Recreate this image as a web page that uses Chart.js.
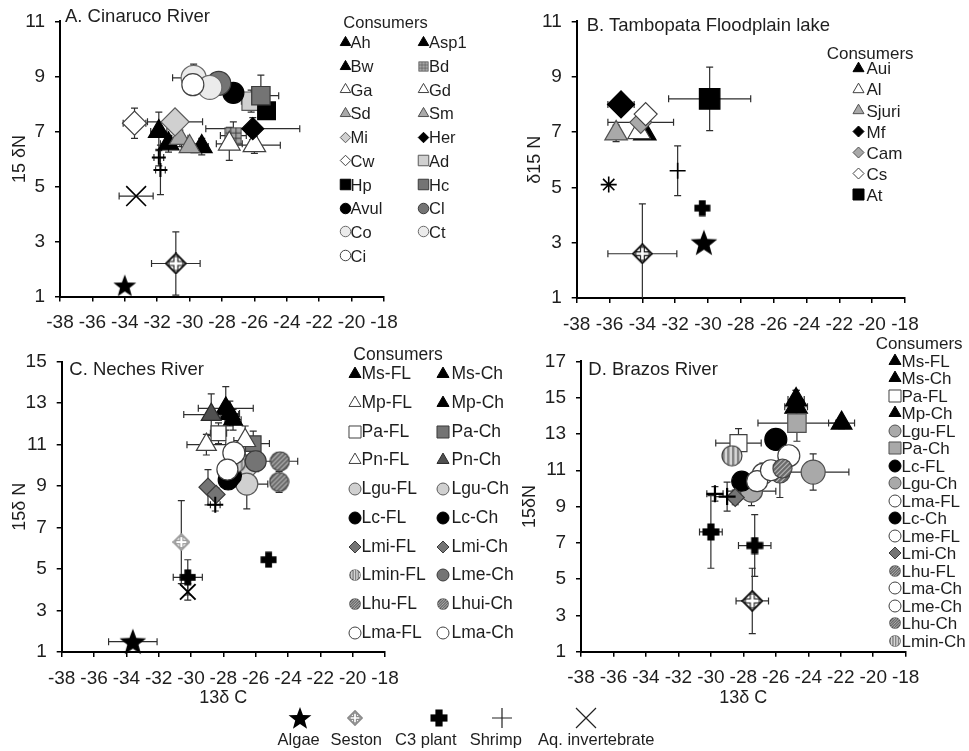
<!DOCTYPE html>
<html>
<head>
<meta charset="utf-8">
<title>Stable isotope biplots</title>
<script src="https://cdn.jsdelivr.net/npm/chart.js@4.4.1/dist/chart.umd.min.js"></script>
<style>
  body { margin: 0; background: #fff; }
  #fig { position: relative; width: 969px; height: 751px; overflow: hidden;
         font-family: "Liberation Sans", Arial, Helvetica, sans-serif; color: #1e1e1e; }
  #fig canvas.panel { position: absolute; }
  .txt { position: absolute; white-space: nowrap; line-height: 1; }
</style>
</head>
<body>
<div id="fig">
  <canvas id="chartA" class="panel" width="480" height="345" style="left:0;top:0"></canvas>
  <canvas id="chartB" class="panel" width="489" height="345" style="left:480px;top:0"></canvas>
  <canvas id="chartC" class="panel" width="480" height="375" style="left:0;top:340px"></canvas>
  <canvas id="chartD" class="panel" width="489" height="375" style="left:480px;top:340px"></canvas>
</div>
<script>
// ---- A. Cinaruco River ----
const aNames = ["Ah", "Asp1", "Bw", "Bd", "Ga", "Gd", "Sd", "Sm", "Mi", "Her",
    "Cw", "Ad", "Hp", "Hc", "Avul", "Cl", "Co", "Ct", "Ci"];
const aX = [-31.9, -31.3, -29.25, -27.3, -27.55, -26.0, -30.6, -30.0, -30.9, -26.1,
    -33.4, -26.2, -25.25, -25.6, -27.3, -28.2, -29.75, -28.75, -29.8];
const aY = [7.0, 6.55, 6.45, 6.85, 6.55, 6.5, 6.75, 6.45, 7.35, 7.1,
    7.3, 8.1, 7.75, 8.3, 8.4, 8.75, 8.95, 8.6, 8.7];
const aXErr = [0.5, 0.5, 0.4, 0.8, 0.8, 1.6, 0.5, 0.5, 1.7, 2.9,
    0.7, 0.6, 0.5, 1.1, 0.3, 0.4, 1.3, 0.6, 0.3];
const aYErr = [0.7, 0.3, 0.3, 0.5, 0.6, 0.3, 0.3, 0.2, 0.3, 0.4,
    0.55, 0.4, 0.3, 0.75, 0.2, 0.3, 0.5, 0.4, 0.3];
const aSrcTypes = ["Algae", "Seston", "Shrimp", "Shrimp", "Aq. invertebrate"];
const aSrcX = [-34.0, -30.85, -31.9, -31.8, -33.3];
const aSrcY = [1.4, 2.2, 6.05, 5.6, 4.65];
const aSrcXErr = [0, 1.5, 0.3, 0.3, 1.05];
const aSrcYErr = [0, 1.15, 0.3, 0.9, 0];

// ---- B. Tambopata Floodplain lake ----
const bNames = ["Aui", "Al", "Sjuri", "Mf", "Cam", "Cs", "At"];
const bX = [-33.85, -34.2, -35.6, -35.3, -34.1, -33.8, -29.9];
const bY = [6.95, 7.0, 6.95, 8.0, 7.35, 7.65, 8.2];
const bXErr = [0, 0, 0, 0.8, 2.0, 0, 2.5];
const bYErr = [0, 0, 0.3, 0, 0, 0, 1.15];
const bSrcTypes = ["Algae", "Seston", "C3 plant", "Shrimp", "Aq. invertebrate"];
const bSrcX = [-30.25, -34.0, -30.35, -31.85, -36.05];
const bSrcY = [3.0, 2.6, 4.25, 5.6, 5.1];
const bSrcXErr = [0, 2.1, 0, 0, 0];
const bSrcYErr = [0, 1.8, 0, 0.9, 0];

// ---- C. Neches River ----
const cNames = ["Ms-FL", "Ms-Ch", "Mp-FL", "Mp-Ch", "Pa-FL", "Pa-Ch", "Pn-FL", "Pn-Ch",
    "Lgu-FL", "Lgu-Ch", "Lc-FL", "Lc-Ch", "Lmi-FL", "Lmi-Ch", "Lmin-FL", "Lme-Ch",
    "Lhu-FL", "Lhui-Ch", "Lma-FL", "Lma-Ch"];
const cX = [-27.85, -27.4, -29.05, -27.6, -28.3, -26.15, -26.65, -28.75,
    -26.55, -26.55, -27.7, -27.5, -28.95, -28.45, -27.2, -26.0,
    -24.5, -24.55, -27.35, -27.75];
const cY = [12.75, 12.2, 11.0, 12.5, 11.55, 11.05, 11.2, 12.45,
    9.95, 9.1, 9.3, 9.5, 8.95, 8.6, 10.1, 10.2,
    10.2, 9.2, 10.6, 9.8];
const cXErr = [1.7, 0.5, 1.2, 0.6, 0.5, 1.0, 0.7, 1.7,
    0.5, 1.3, 0.3, 0.3, 0.3, 0.3, 0.3, 0.5,
    1.1, 0.5, 0.4, 0.3];
const cYErr = [1.05, 0.5, 0.5, 0.6, 0.5, 0.6, 0.7, 1.0,
    0.5, 1.2, 0.3, 0.3, 0.85, 0.3, 0.3, 0.5,
    0.4, 0.5, 0.4, 0.3];
const cSrcTypes = ["Algae", "Seston", "C3 plant", "C3 plant", "Shrimp", "Aq. invertebrate"];
const cSrcX = [-33.6, -30.6, -30.2, -25.2, -28.5, -30.2];
const cSrcY = [1.5, 6.3, 4.6, 5.45, 8.1, 3.9];
const cSrcXErr = [1.5, 0, 0.9, 0, 0.3, 0];
const cSrcYErr = [0, 2.0, 0.85, 0, 0.3, 0.4];

// ---- D. Brazos River ----
const dNames = ["Ms-FL", "Ms-Ch", "Pa-FL", "Mp-Ch", "Lgu-FL", "Pa-Ch", "Lc-FL", "Lgu-Ch",
    "Lma-FL", "Lc-Ch", "Lme-FL", "Lmi-Ch", "Lhu-FL", "Lma-Ch", "Lme-Ch", "Lhu-Ch", "Lmin-Ch"];
const dX = [-24.75, -24.75, -28.3, -21.95, -27.5, -24.7, -28.1, -23.7,
    -26.8, -26.0, -25.2, -28.5, -25.75, -27.15, -26.3, -25.6, -28.7];
const dY = [14.5, 14.9, 12.5, 13.6, 9.85, 13.6, 10.4, 10.9,
    10.8, 12.7, 11.8, 9.5, 10.85, 10.4, 11.0, 11.1, 11.8];
const dXErr = [0.7, 0.5, 1.4, 0.8, 1.5, 2.4, 0.4, 2.2,
    0.5, 0.3, 0.4, 0.3, 0.5, 0.4, 0.4, 0.5, 0.3];
const dYErr = [0.9, 0.5, 0.8, 0.3, 0.8, 1.0, 0.4, 1.0,
    0.6, 0.3, 0.3, 0.4, 1.35, 0.5, 0.4, 0.5, 0.3];
const dSrcTypes = ["Seston", "C3 plant", "C3 plant", "Shrimp", "Shrimp"];
const dSrcX = [-27.45, -30.0, -27.3, -29.75, -29.0];
const dSrcY = [3.8, 7.6, 6.85, 9.7, 9.55];
const dSrcXErr = [1.0, 0.7, 1.0, 0.5, 0.7];
const dSrcYErr = [1.8, 2.0, 1.7, 0.4, 0.8];

const sourceOrder = ["Algae", "Seston", "C3 plant", "Shrimp", "Aq. invertebrate"];

const FONT = '"Liberation Sans", Arial, Helvetica, sans-serif';
const INK = "#1e1e1e";
const fig = document.getElementById("fig");

const BLACK = { fill: "#000000", line: "#000000" };
const WHITE = { fill: "#ffffff", line: "#404040" };
const PALE = { fill: "#ebebeb", line: "#6a6a6a" };
const LIGHT = { fill: "#d0d0d0", line: "#5a5a5a" };
const GREY = { fill: "#a9a9a9", line: "#505050" };
const DARK = { fill: "#747474", line: "#3a3a3a" };
const DARKER = { fill: "#505050", line: "#2a2a2a" };

// small canvases used as point styles
function canvasOf(d, paint) {
    const c = document.createElement("canvas");
    c.width = d;
    c.height = d;
    paint(c.getContext("2d"), d / 2, d);
    return c;
}

function starImg(d) {
    return canvasOf(d, (g, m) => {
        g.beginPath();
        for (let i = 0; i < 10; i++) {
            const r = i % 2 ? m * 0.42 : m;
            const a = -Math.PI / 2 + i * Math.PI / 5;
            g.lineTo(m + r * Math.cos(a), m * 1.08 + r * Math.sin(a));
        }
        g.closePath();
        g.fillStyle = "#000";
        g.fill();
    });
}

function sestonImg(d, ink) {
    return canvasOf(d, (g, m) => {
        const r = m - 1;
        g.strokeStyle = ink;
        g.fillStyle = "#fff";
        g.lineWidth = 1.8;
        g.beginPath();
        g.moveTo(m, m - r);
        g.lineTo(m + r, m);
        g.lineTo(m, m + r);
        g.lineTo(m - r, m);
        g.closePath();
        g.fill();
        g.stroke();
        const a = r * 0.7, w = r * 0.2;
        g.beginPath();
        g.moveTo(m - w, m - a); g.lineTo(m + w, m - a); g.lineTo(m + w, m - w);
        g.lineTo(m + a, m - w); g.lineTo(m + a, m + w); g.lineTo(m + w, m + w);
        g.lineTo(m + w, m + a); g.lineTo(m - w, m + a); g.lineTo(m - w, m + w);
        g.lineTo(m - a, m + w); g.lineTo(m - a, m - w); g.lineTo(m - w, m - w);
        g.closePath();
        g.fill();
        g.lineWidth = 1.1;
        g.stroke();
    });
}

function plantImg(d) {
    return canvasOf(d, (g, m, n) => {
        const w = n * 0.2;
        g.fillStyle = "#000";
        g.fillRect(m - w, 0.5, 2 * w, n - 1);
        g.fillRect(0.5, m - w, n - 1, 2 * w);
    });
}

function stripeImg(d, kind) {
    return canvasOf(d, (g, m, n) => {
        const r = m - 1;
        g.save();
        g.beginPath();
        g.arc(m, m, r, 0, 2 * Math.PI);
        g.clip();
        g.fillStyle = kind === "v" ? "#d6d6d6" : "#c2c2c2";
        g.fillRect(0, 0, n, n);
        g.strokeStyle = kind === "v" ? "#858585" : "#6a6a6a";
        g.lineWidth = n / 9;
        g.beginPath();
        for (let t = -n; t < 2 * n; t += n / 4.5) {
            if (kind === "v") {
                g.moveTo(t, 0);
                g.lineTo(t, n);
            } else {
                g.moveTo(t, n);
                g.lineTo(t + n, 0);
            }
        }
        g.stroke();
        g.restore();
        g.beginPath();
        g.arc(m, m, r, 0, 2 * Math.PI);
        g.strokeStyle = "#404040";
        g.lineWidth = 1.2;
        g.stroke();
    });
}

function gridSquareImg(d) {
    return canvasOf(d, (g, m, n) => {
        g.fillStyle = "#a4a4a4";
        g.fillRect(1, 1, n - 2, n - 2);
        g.strokeStyle = "#3c3c3c";
        g.lineWidth = 1;
        g.beginPath();
        for (let k = 1; k < 3; k++) {
            const p = 1 + k * (n - 2) / 3;
            g.moveTo(p, 1); g.lineTo(p, n - 1);
            g.moveTo(1, p); g.lineTo(n - 1, p);
        }
        g.stroke();
        g.strokeRect(1, 1, n - 2, n - 2);
    });
}

// [point style, colours, radius, line width]
const styleA = {
    "Ah": ["triangle", BLACK, 12], "Asp1": ["triangle", BLACK, 12], "Bw": ["triangle", BLACK, 12],
    "Bd": [gridSquareImg(18), BLACK, 9], "Ga": ["triangle", WHITE, 12.5], "Gd": ["triangle", WHITE, 13],
    "Sd": ["triangle", GREY, 12], "Sm": ["triangle", GREY, 12], "Mi": ["rectRot", LIGHT, 14],
    "Her": ["rectRot", BLACK, 11], "Cw": ["rectRot", WHITE, 12], "Ad": ["rect", LIGHT, 13],
    "Hp": ["rect", BLACK, 12.5], "Hc": ["rect", DARK, 13], "Avul": ["circle", BLACK, 10.5],
    "Cl": ["circle", DARK, 12], "Co": ["circle", PALE, 12.5], "Ct": ["circle", PALE, 12],
    "Ci": ["circle", WHITE, 11]
};
const srcStyleA = {
    "Algae": [starImg(24), BLACK, 12], "Seston": [sestonImg(22, "#111"), BLACK, 11],
    "Shrimp": ["cross", BLACK, 7, 2], "Aq. invertebrate": ["crossRot", BLACK, 14, 1.6]
};
const styleB = {
    "Aui": ["triangle", BLACK, 13], "Al": ["triangle", WHITE, 13], "Sjuri": ["triangle", GREY, 13],
    "Mf": ["rectRot", BLACK, 13.5], "Cam": ["rectRot", GREY, 11], "Cs": ["rectRot", WHITE, 11.5],
    "At": ["rect", BLACK, 14.5]
};
const srcStyleB = {
    "Algae": [starImg(28), BLACK, 14], "Seston": [sestonImg(21, "#111"), BLACK, 10],
    "C3 plant": [plantImg(17), BLACK, 8], "Shrimp": ["cross", BLACK, 8, 1.6],
    "Aq. invertebrate": ["star", BLACK, 8, 1.6]
};
const styleC = {
    "Ms-FL": ["triangle", BLACK, 11.5], "Ms-Ch": ["triangle", BLACK, 11], "Mp-FL": ["triangle", WHITE, 11.5],
    "Mp-Ch": ["triangle", BLACK, 11.5], "Pa-FL": ["rect", WHITE, 10.5], "Pa-Ch": ["rect", DARK, 11],
    "Pn-FL": ["triangle", WHITE, 12], "Pn-Ch": ["triangle", DARKER, 11.5], "Lgu-FL": ["circle", LIGHT, 10.5],
    "Lgu-Ch": ["circle", LIGHT, 11], "Lc-FL": ["circle", BLACK, 10], "Lc-Ch": ["circle", BLACK, 10],
    "Lmi-FL": ["rectRot", DARK, 9], "Lmi-Ch": ["rectRot", DARK, 9], "Lmin-FL": [stripeImg(20, "v"), GREY, 10],
    "Lme-Ch": ["circle", DARK, 10.5], "Lhu-FL": [stripeImg(21, "d"), GREY, 10],
    "Lhui-Ch": [stripeImg(21, "d"), GREY, 10], "Lma-FL": ["circle", WHITE, 11], "Lma-Ch": ["circle", WHITE, 10.5]
};
const srcStyleC = {
    "Algae": [starImg(28), BLACK, 14], "Seston": [sestonImg(18, "#9a9a9a"), LIGHT, 9],
    "C3 plant": [plantImg(17), BLACK, 8], "Shrimp": ["cross", BLACK, 8, 2],
    "Aq. invertebrate": ["crossRot", BLACK, 11, 2]
};
const styleD = {
    "Ms-FL": ["triangle", BLACK, 13], "Ms-Ch": ["triangle", BLACK, 12], "Pa-FL": ["rect", WHITE, 12],
    "Mp-Ch": ["triangle", BLACK, 12], "Lgu-FL": ["circle", GREY, 11], "Pa-Ch": ["rect", GREY, 13],
    "Lc-FL": ["circle", BLACK, 10], "Lgu-Ch": ["circle", GREY, 12], "Lma-FL": ["circle", WHITE, 10.5],
    "Lc-Ch": ["circle", BLACK, 11], "Lme-FL": ["circle", WHITE, 11], "Lmi-Ch": ["rectRot", DARK, 9],
    "Lhu-FL": [stripeImg(22, "d"), GREY, 11], "Lma-Ch": ["circle", WHITE, 10.5],
    "Lme-Ch": ["circle", WHITE, 10.5], "Lhu-Ch": [stripeImg(21, "d"), GREY, 10],
    "Lmin-Ch": [stripeImg(22, "v"), GREY, 11]
};
const srcStyleD = {
    "Seston": [sestonImg(22, "#111"), BLACK, 11], "C3 plant": [plantImg(18), BLACK, 9],
    "Shrimp": ["cross", BLACK, 8.5, 2.2]
};

// error bars drawn from the data through the chart scales
const errorBars = {
    id: "errorBars",
    beforeDatasetsDraw(chart) {
        const { ctx, chartArea, scales } = chart;
        const sx = scales.x, sy = scales.y, cap = 3.5;
        ctx.save();
        ctx.beginPath();
        ctx.rect(chartArea.left, chartArea.top - 30, chartArea.width + 30, chartArea.height + 30);
        ctx.clip();
        ctx.strokeStyle = "#2e2e2e";
        ctx.lineWidth = 1.2;
        chart.data.datasets.forEach(ds => {
            ds.data.forEach(p => {
                const px = sx.getPixelForValue(p.x);
                const py = sy.getPixelForValue(p.y);
                ctx.beginPath();
                if (p.xe) {
                    const x0 = sx.getPixelForValue(p.x - p.xe);
                    const x1 = sx.getPixelForValue(p.x + p.xe);
                    ctx.moveTo(x0, py); ctx.lineTo(x1, py);
                    ctx.moveTo(x0, py - cap); ctx.lineTo(x0, py + cap);
                    ctx.moveTo(x1, py - cap); ctx.lineTo(x1, py + cap);
                }
                if (p.ye) {
                    const y0 = sy.getPixelForValue(p.y - p.ye);
                    const y1 = sy.getPixelForValue(p.y + p.ye);
                    ctx.moveTo(px, y0); ctx.lineTo(px, y1);
                    ctx.moveTo(px - cap, y0); ctx.lineTo(px + cap, y0);
                    ctx.moveTo(px - cap, y1); ctx.lineTo(px + cap, y1);
                }
                ctx.stroke();
            });
        });
        ctx.restore();
    }
};

function styleToDataset(label, data, st) {
    return {
        label,
        data,
        pointStyle: st[0],
        pointRadius: st[2],
        backgroundColor: st[1].fill,
        borderColor: st[1].line,
        borderWidth: st[3] || 1.2,
        clip: false
    };
}

function buildDatasets(names, xs, ys, xe, ye, styles, types, sxs, sys, sxe, sye, srcStyles) {
    const sets = names.map((n, i) =>
        styleToDataset(n, [{ x: xs[i], y: ys[i], xe: xe[i], ye: ye[i] }], styles[n]));
    sourceOrder.filter(t => types.includes(t)).forEach(t => {
        const pts = [];
        types.forEach((ty, i) => {
            if (ty === t) pts.push({ x: sxs[i], y: sys[i], xe: sxe[i], ye: sye[i] });
        });
        sets.push(styleToDataset(t, pts, srcStyles[t]));
    });
    // later series are painted on top, as in the original figure
    sets.forEach((d, i) => { d.order = sets.length - i; });
    return sets;
}

function makeChart(id, datasets, o) {
    const axisGrid = { drawOnChartArea: false, tickLength: 5, color: "#000", lineWidth: 1.5 };
    const axisBorder = { color: "#000", width: 2 };
    return new Chart(document.getElementById(id), {
        type: "scatter",
        data: { datasets },
        options: {
            responsive: false,
            animation: false,
            events: [],
            layout: { padding: { left: o.padL, top: o.padT, right: o.padR, bottom: 0 } },
            plugins: { legend: { display: false }, tooltip: { enabled: false } },
            scales: {
                x: {
                    type: "linear",
                    position: "bottom",
                    min: -38,
                    max: -18,
                    afterFit: s => { s.height = o.xH; },
                    ticks: { stepSize: 2, autoSkip: false, maxRotation: 0, padding: 10,
                        color: INK, font: { family: FONT, size: 19 } },
                    grid: axisGrid,
                    border: axisBorder,
                    title: { display: !!o.xTitle, text: o.xTitle || "", color: INK,
                        font: { family: FONT, size: 18 }, padding: { top: 0, bottom: o.xTitlePad || 0 } }
                },
                y: {
                    type: "linear",
                    min: 1,
                    max: o.yMax,
                    afterFit: s => { s.width = o.yW; },
                    ticks: { stepSize: 2, padding: 10, color: INK, font: { family: FONT, size: 19 } },
                    grid: axisGrid,
                    border: axisBorder,
                    title: { display: true, text: o.yTitle, color: INK,
                        font: { family: FONT, size: 18 }, padding: { top: o.yTitlePad, bottom: 0 } }
                }
            }
        },
        plugins: [errorBars]
    });
}

// html text and legend symbols
function putText(str, left, cy, size, center) {
    const el = document.createElement("div");
    el.className = "txt";
    el.textContent = str;
    el.style.left = left + "px";
    el.style.top = cy + "px";
    el.style.fontSize = size + "px";
    el.style.transform = center ? "translate(-50%,-50%)" : "translateY(-50%)";
    fig.appendChild(el);
}

function putSymbol(st, cx, cy, size, lw) {
    const n = Math.ceil(size) + 6;
    const c = document.createElement("canvas");
    c.width = n;
    c.height = n;
    c.style.position = "absolute";
    c.style.left = (cx - n / 2) + "px";
    c.style.top = (cy - n / 2) + "px";
    const g = c.getContext("2d");
    if (st[0] instanceof HTMLCanvasElement) {
        g.drawImage(st[0], (n - size) / 2, (n - size) / 2, size, size);
    } else {
        const k = { triangle: 1.73, rect: 1.414, rectRot: 2, circle: 2, cross: 2, crossRot: 1.414, star: 2 }[st[0]] || 2;
        g.fillStyle = st[1].fill;
        g.strokeStyle = st[1].line;
        g.lineWidth = lw || 1;
        Chart.helpers.drawPoint(g, { pointStyle: st[0], radius: size / k, borderWidth: 1, rotation: 0 }, n / 2, n / 2);
    }
    fig.appendChild(c);
}

function consumerLegend(names, styles, o) {
    putText("Consumers", o.x, o.headY, o.font);
    names.forEach((n, i) => {
        const col = i % o.symX.length;
        const row = Math.floor(i / o.symX.length);
        const cy = o.rowY + row * o.step;
        putSymbol(styles[n], o.symX[col], cy, o.sym);
        putText(n, o.textX[col], cy, o.font);
    });
}

makeChart("chartA",
    buildDatasets(aNames, aX, aY, aXErr, aYErr, styleA, aSrcTypes, aSrcX, aSrcY, aSrcXErr, aSrcYErr, srcStyleA),
    { padL: 0, padT: 19, padR: 96, yW: 60, xH: 48.5, yMax: 11, yTitle: "15 δN", yTitlePad: 9 });
makeChart("chartB",
    buildDatasets(bNames, bX, bY, bXErr, bYErr, styleB, bSrcTypes, bSrcX, bSrcY, bSrcXErr, bSrcYErr, srcStyleB),
    { padL: 36, padT: 20.7, padR: 64, yW: 60.7, xH: 47, yMax: 11, yTitle: "δ15 N", yTitlePad: 8 });
makeChart("chartC",
    buildDatasets(cNames, cX, cY, cXErr, cYErr, styleC, cSrcTypes, cSrcX, cSrcY, cSrcXErr, cSrcYErr, srcStyleC),
    { padL: 0, padT: 21.7, padR: 95, yW: 61.7, xH: 63, yMax: 15, yTitle: "15δ N", yTitlePad: 9,
      xTitle: "13δ C", xTitlePad: 6 });
makeChart("chartD",
    buildDatasets(dNames, dX, dY, dXErr, dYErr, styleD, dSrcTypes, dSrcX, dSrcY, dSrcXErr, dSrcYErr, srcStyleD),
    { padL: 30, padT: 18.3, padR: 63.3, yW: 71, xH: 63.3, yMax: 17, yTitle: "15δN", yTitlePad: 9,
      xTitle: "13δ C", xTitlePad: 6 });

// panel titles
putText("A. Cinaruco River", 65, 16, 18.5);
putText("B. Tambopata Floodplain lake", 586.7, 25, 18.5);
putText("C. Neches River", 69.3, 369.3, 18.5);
putText("D. Brazos River", 588.3, 369.3, 18.5);

consumerLegend(aNames, styleA, { x: 343.3, headY: 22.3, rowY: 42.3, step: 23.7,
    symX: [345, 423.3], textX: [350.5, 429], sym: 10.5, font: 16.5 });
consumerLegend(bNames, styleB, { x: 826.7, headY: 53.3, rowY: 68.3, step: 21.1,
    symX: [858], textX: [866.5], sym: 11, font: 17 });
consumerLegend(cNames, styleC, { x: 353.3, headY: 355, rowY: 374.3, step: 28.7,
    symX: [354.5, 442.5], textX: [361.5, 451.5], sym: 12, font: 17.5 });
consumerLegend(dNames, styleD, { x: 875.7, headY: 342.7, rowY: 360.7, step: 17.5,
    symX: [894.5], textX: [901.5], sym: 12, font: 17 });

// shared legend for the food sources
const THIN = { fill: "#222", line: "#222" };
putSymbol([starImg(24), BLACK], 300, 718, 24);
putSymbol([sestonImg(16, "#8c8c8c"), LIGHT], 355, 718, 16);
putSymbol([plantImg(18), BLACK], 439, 718, 18);
putSymbol(["cross", THIN], 502, 718, 20, 1.2);
putSymbol(["crossRot", THIN], 586, 718, 20, 1.2);
putText("Algae", 298.7, 738.5, 16.5, true);
putText("Seston", 356.3, 738.5, 16.5, true);
putText("C3 plant", 425.8, 738.5, 16.5, true);
putText("Shrimp", 495.8, 738.5, 16.5, true);
putText("Aq. invertebrate", 596.3, 738.5, 16.5, true);
</script>
</body>
</html>
